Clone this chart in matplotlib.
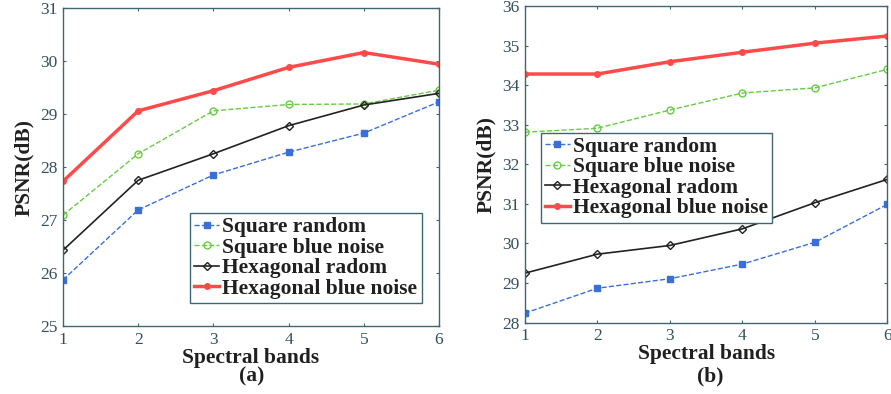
import numpy as np
import matplotlib.pyplot as plt

plt.rcParams['font.family'] = ['Liberation Serif', 'DejaVu Serif']

bands = [1, 2, 3, 4, 5, 6]
labels = ['Square random', 'Square blue noise', 'Hexagonal radom', 'Hexagonal blue noise']

# panel (a)
a_sq_rand = [25.87, 27.19, 27.85, 28.28, 28.64, 29.23]
a_sq_blue = [27.09, 28.25, 29.06, 29.18, 29.19, 29.45]
a_hex_rand = [26.43, 27.75, 28.25, 28.78, 29.17, 29.39]
a_hex_blue = [27.73, 29.06, 29.44, 29.88, 30.16, 29.94]

# panel (b)
b_sq_rand = [28.24, 28.87, 29.11, 29.48, 30.03, 30.99]
b_sq_blue = [32.81, 32.91, 33.37, 33.80, 33.93, 34.40]
b_hex_rand = [29.25, 29.73, 29.95, 30.37, 31.03, 31.62]
b_hex_blue = [34.28, 34.28, 34.59, 34.83, 35.06, 35.24]

styles = [
    dict(color='#3a6fd8', ls='--', lw=1.0, marker='s', ms=4, mfc='#3a6fd8', mec='#3a6fd8'),
    dict(color='#66cc44', ls='--', lw=1.0, marker='o', ms=5, mfc='none', mec='#66cc44'),
    dict(color='#222222', ls='-', lw=1.2, marker='D', ms=4, mfc='none', mec='#222222'),
    dict(color='#ff4a4a', ls='-', lw=2.5, marker='o', ms=4, mfc='#ff4a4a', mec='#ff4a4a'),
]

edge = '#3f6675'

fig = plt.figure(figsize=(8.91, 3.94), dpi=100)
ax1 = fig.add_axes([0.0707, 0.1726, 0.422, 0.807])
ax2 = fig.add_axes([0.589, 0.181, 0.407, 0.804])


def draw(ax, series, ylim, leg_bbox):
    for ys, st, lab in zip(series, styles, labels):
        ax.plot(bands, ys, label=lab, **st)
    ax.set_xlim(1, 6)
    ax.set_ylim(*ylim)
    ax.set_xticks(bands)
    ax.set_yticks(np.arange(ylim[0], ylim[1] + 1))
    ax.tick_params(direction='in', top=True, right=True, labelsize=12.5,
                   labelcolor='#34505c', color=edge, length=2.5, pad=4)
    for s in ax.spines.values():
        s.set_color(edge)
        s.set_linewidth(1.0)
    ax.set_xlabel('Spectral bands', fontsize=15.5, fontweight='bold', labelpad=0,
                  color='#202020')
    ax.set_ylabel('PSNR(dB)', fontsize=15.5, fontweight='bold', labelpad=4,
                  color='#202020')
    leg = ax.legend(loc='upper left', bbox_to_anchor=leg_bbox,
                    prop={'weight': 'bold', 'size': 15.5}, frameon=True, fancybox=False,
                    handlelength=1.15, handletextpad=0.15, borderpad=0.2,
                    labelspacing=0.02, borderaxespad=0, framealpha=1)
    leg.get_frame().set_edgecolor(edge)
    leg.get_frame().set_linewidth(1.0)
    for t in leg.get_texts():
        t.set_color('#202020')
    return ax


draw(ax1, [a_sq_rand, a_sq_blue, a_hex_rand, a_hex_blue], (25, 31), (0.338, 0.355))
draw(ax2, [b_sq_rand, b_sq_blue, b_hex_rand, b_hex_blue], (28, 36), (0.044, 0.60))

fig.text(0.2825, 0.032, '(a)', ha='center', fontsize=15.5, fontweight='bold', color='#202020')
fig.text(0.797, 0.032, '(b)', ha='center', fontsize=15.5, fontweight='bold', color='#202020')

fig.savefig('out.png', dpi=100)
